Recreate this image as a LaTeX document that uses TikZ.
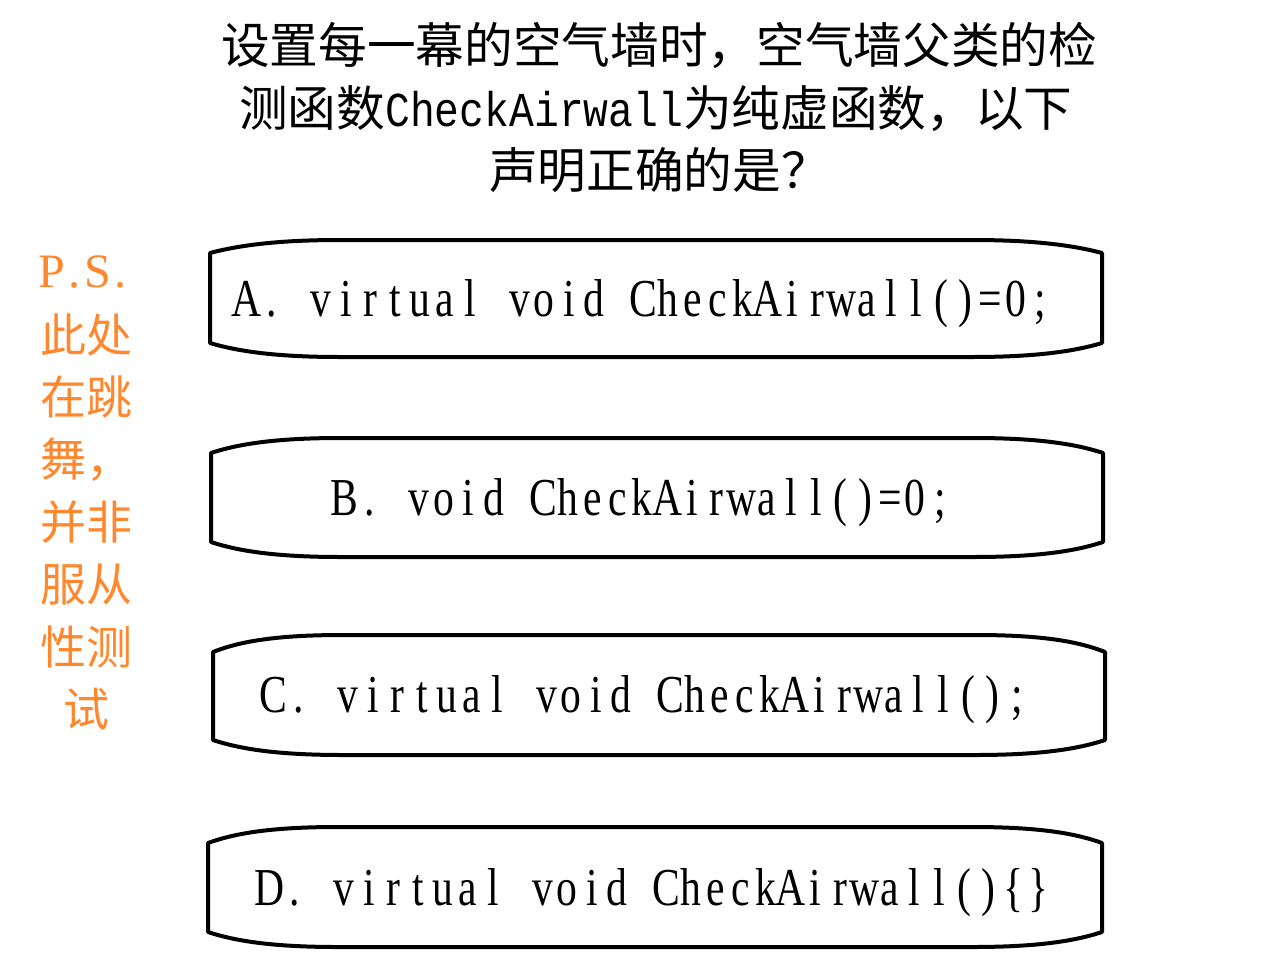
\documentclass[tikz,border=0pt]{standalone}
\usepackage{fontspec}
\setmainfont{Liberation Serif}
\newfontfamily\cjk{Noto Sans CJK SC}
\newfontfamily\optfont[FakeStretch=0.78]{Liberation Serif}
\newfontfamily\titlelat[FakeStretch=0.85]{Liberation Mono}
\definecolor{psorange}{RGB}{255,135,45}
\def\myMonoEnd{\myMonoEnd}
\newcommand\monocells[1]{\def\myCellW{#1}\myMonoStep}
\def\myMonoStep#1{\ifx#1\myMonoEnd\else\makebox[\myCellW]{#1}\expandafter\myMonoStep\fi}
\newcommand\airbox[6]{%
  \draw[boxline] (#1,#5) .. controls ({#1+30},{#2+5}) and ({#1+70},#2) .. ({#1+130},#2)
    -- ({#3-130},#2) .. controls ({#3-70},#2) and ({#3-30},{#2+5}) .. (#3,#5)
    -- (#3,#6) .. controls ({#3-30},{#4-5}) and ({#3-70},#4) .. ({#3-130},#4)
    -- ({#1+130},#4) .. controls ({#1+70},#4) and ({#1+30},{#4-5}) .. (#1,#6) -- cycle;}
\tikzset{
  boxline/.style={line width=3pt, line join=round, black},
  titletext/.style={inner sep=0pt, anchor=base west, font=\cjk\fontsize{36.5pt}{36.5pt}\selectfont},
  opttext/.style={inner sep=0pt, anchor=base west, font=\optfont\fontsize{40pt}{40pt}\selectfont},
  pstext/.style={inner sep=0pt, anchor=center, text=psorange, font=\cjk\fontsize{34.5pt}{34.5pt}\selectfont}
}
\begin{document}
\begin{tikzpicture}[x=0.75pt,y=-0.75pt]
\path[use as bounding box, fill=white] (0,0) rectangle (1280,960);
% title
\node[titletext] (t1) at (221,63) {设置每一幕的空气墙时，空气墙父类的检};
\node[titletext] (t2) at (239,126) {测函数{\titlelat CheckAirwall}为纯虚函数，以下};
\node[titletext] (t3) at (489,188) {声明正确的是？};
% side note
\node[pstext, font=\fontsize{36pt}{36pt}\selectfont] (ps0) at (86,272) {\monocells{17.25pt}P.S.\myMonoEnd};
\node[pstext] (ps1) at (86,335) {此处};
\node[pstext] (ps2) at (86,397) {在跳};
\node[pstext] (ps3) at (86,460) {舞，};
\node[pstext] (ps4) at (86,522) {并非};
\node[pstext] (ps5) at (86,585) {服从};
\node[pstext] (ps6) at (86,647) {性测};
\node[pstext] (ps7) at (86,709) {试};
% option boxes
\airbox{210}{240}{1102}{357}{253}{343}
\airbox{211}{438}{1103}{557}{453}{542}
\airbox{213}{635}{1105}{755}{652}{740}
\airbox{208}{827}{1102}{947}{843}{932}
\node[opttext] (optA) at (234,316) {\monocells{18.6pt}A.~virtual~void~CheckAirwall()=0;\myMonoEnd};
\node[opttext] (optB) at (332,515) {\monocells{18.6pt}B.~void~CheckAirwall()=0;\myMonoEnd};
\node[opttext] (optC) at (261,712) {\monocells{18.6pt}C.~virtual~void~CheckAirwall();\myMonoEnd};
\node[opttext] (optD) at (257,905) {\monocells{18.6pt}D.~virtual~void~CheckAirwall()\{\}\myMonoEnd};
\end{tikzpicture}
\end{document}
